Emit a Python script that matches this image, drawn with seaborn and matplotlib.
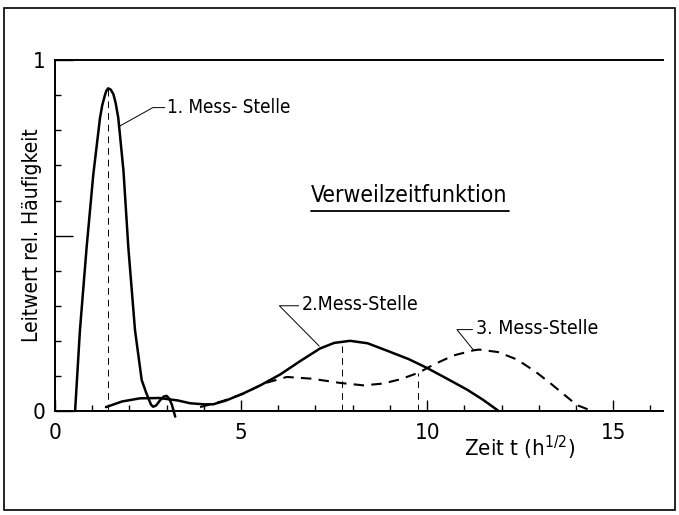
import numpy as np
import pandas as pd
import seaborn as sns
import matplotlib.pyplot as plt
from matplotlib.patches import Rectangle
from matplotlib.ticker import MultipleLocator, FixedLocator, FixedFormatter

t1 = [0.54, 0.67, 0.85, 1.03, 1.21, 1.27, 1.34, 1.38, 1.43, 1.50, 1.57, 1.63, 1.70, 1.84, 1.97, 2.15, 2.33, 2.45, 2.51, 2.58, 2.64, 2.72, 2.82, 2.92, 3.00, 3.07, 3.14, 3.23]
y1 = [0.0, 0.23, 0.467, 0.675, 0.836, 0.872, 0.90, 0.913, 0.92, 0.916, 0.903, 0.878, 0.836, 0.685, 0.467, 0.23, 0.088, 0.052, 0.036, 0.018, 0.012, 0.016, 0.030, 0.041, 0.043, 0.035, 0.018, -0.016]

t2 = [1.37, 1.8, 2.28, 2.8, 3.3, 3.63, 4.0, 4.25, 4.6, 5.06, 5.5, 6.05, 6.6, 7.12, 7.5, 7.93, 8.4, 8.92, 9.5, 9.99, 10.5, 11.07, 11.5, 11.92]
y2 = [0.011, 0.027, 0.036, 0.037, 0.030, 0.022, 0.019, 0.019, 0.030, 0.050, 0.072, 0.104, 0.143, 0.178, 0.194, 0.200, 0.193, 0.172, 0.148, 0.123, 0.094, 0.061, 0.032, 0.0]

t3 = [3.9, 4.5, 5.06, 5.6, 6.23, 6.9, 7.66, 8.29, 8.8, 9.27, 9.77, 10.17, 10.7, 11.25, 11.4, 11.9, 12.41, 12.9, 13.3, 13.7, 14.02, 14.43]
y3 = [0.011, 0.028, 0.049, 0.078, 0.097, 0.092, 0.08, 0.073, 0.078, 0.09, 0.109, 0.132, 0.158, 0.173, 0.175, 0.168, 0.147, 0.113, 0.08, 0.045, 0.017, 0.0]

# gestrichelte Lote: (t, Hoehe)
lote_t = [1.43, 7.72, 9.75]
lote_y = [0.92, 0.197, 0.109]

labels = ['1. Mess- Stelle', '2.Mess-Stelle', '3. Mess-Stelle']

sns.set_style('ticks')
plt.rcParams['font.family'] = ['DejaVu Sans']
plt.rcParams['font.stretch'] = 'condensed'
plt.rcParams['text.color'] = 'black'
plt.rcParams['axes.labelcolor'] = 'black'
plt.rcParams['xtick.color'] = 'black'
plt.rcParams['ytick.color'] = 'black'
plt.rcParams['mathtext.fontset'] = 'custom'
plt.rcParams['mathtext.rm'] = 'DejaVu Sans:stretch=condensed'
plt.rcParams['mathtext.default'] = 'regular'

fig = plt.figure(figsize=(6.79, 5.15), dpi=100)
ax = fig.add_axes([0.081, 0.202, 0.895, 0.681])

kw = dict(color='black', estimator=None, legend=False, ax=ax)
sns.lineplot(x=t1, y=y1, lw=1.8, **kw)
sns.lineplot(x=t2, y=y2, lw=1.8, **kw)
sns.lineplot(x=t3, y=y3, lw=1.5, linestyle=(0, (5, 3.5)), **kw)
for line in ax.lines:
    line.set_clip_on(False)

for t, h in zip(lote_t, lote_y):
    ax.plot([t, t], [0, h], color='black', lw=0.7, ls=(0, (7, 5)))

# Beschriftungen mit Hinweislinien
ax.plot([1.70, 2.63, 2.95], [0.81, 0.865, 0.865], color='black', lw=0.7)
ax.text(3.02, 0.865, labels[0], fontsize=13.5, va='center')
ax.plot([7.10, 6.03, 6.55], [0.185, 0.30, 0.30], color='black', lw=0.7)
ax.text(6.62, 0.305, labels[1], fontsize=14, va='center')
ax.plot([11.25, 10.8, 11.22], [0.173, 0.232, 0.232], color='black', lw=0.7)
ax.text(11.3, 0.235, labels[2], fontsize=14, va='center')

ax.text(6.88, 0.615, 'Verweilzeitfunktion', fontsize=16.5, va='center')
ax.plot([6.88, 12.2], [0.571, 0.571], color='black', lw=1.3)

ax.set_xlim(0, 16.33)
ax.set_ylim(0, 1)
ax.xaxis.set_major_locator(FixedLocator([0, 5, 10, 15]))
ax.xaxis.set_minor_locator(MultipleLocator(1))
ax.yaxis.set_major_locator(FixedLocator([0, 0.5, 1]))
ax.yaxis.set_minor_locator(MultipleLocator(0.1))
ax.xaxis.set_major_formatter(FixedFormatter(['0', '5', '10', '15']))
ax.yaxis.set_major_formatter(FixedFormatter(['0', '', '1']))
ax.tick_params(which='both', direction='in', width=1.0, labelsize=16)
ax.tick_params(which='major', length=8, pad=9)
ax.tick_params(axis='y', which='major', length=13, pad=7)
ax.tick_params(which='minor', length=4)

sns.despine(ax=ax, right=True, top=False)
for s in ['left', 'top', 'bottom']:
    ax.spines[s].set_linewidth(1.4)
    ax.spines[s].set_color('black')

ax.set_ylabel('Leitwert rel. Häufigkeit', fontsize=15)
ax.yaxis.set_label_coords(-0.021, 0.5)
ax.set_xlabel('Zeit t (h$^{1/2}$)', fontsize=16)
ax.xaxis.set_label_coords(0.765, -0.065)

fig.patches.append(Rectangle((0.006, 0.01), 0.988, 0.975, transform=fig.transFigure,
                             fill=False, edgecolor='black', lw=1.2))

fig.savefig('out.png', dpi=100)
